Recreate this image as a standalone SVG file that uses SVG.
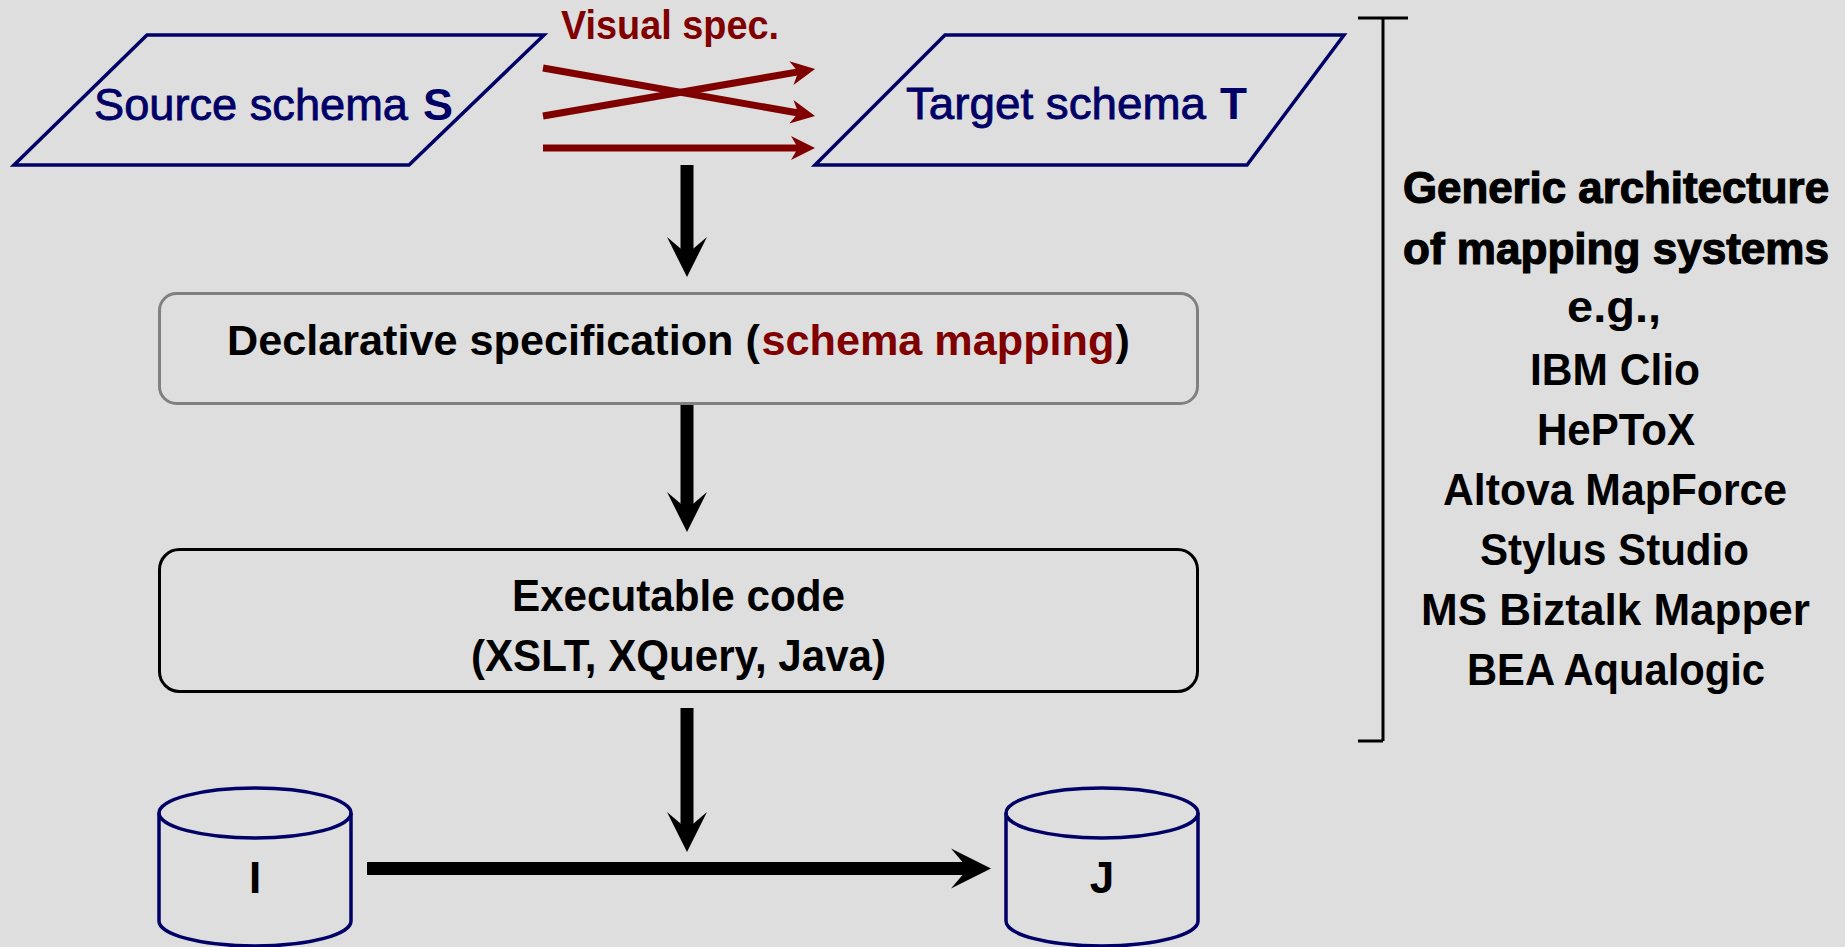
<svg xmlns="http://www.w3.org/2000/svg" width="1845" height="947" viewBox="0 0 1845 947">
<style>
.t{font-family:"Liberation Sans",Arial,sans-serif;font-size:44px;font-weight:bold;}
.d{font-size:43.2px;}
.vs{font-size:41px;}
.navy{fill:#000066;}
.red{fill:#800000;}
.blk{fill:#000000;}
.med{font-weight:normal;stroke:#000066;stroke-width:0.8px;}
.shape{fill:none;stroke:#000066;stroke-width:3.5;}
.bk{stroke:#000;stroke-width:13;fill:none;}
.rd{stroke:#800000;stroke-width:7;fill:none;}
.heavy{stroke:#000;stroke-width:1.2px;}
</style>
<defs>
<marker id="ah" markerUnits="userSpaceOnUse" viewBox="0 -21 41 42" markerWidth="41" markerHeight="42" refX="17" refY="0" orient="auto">
<path d="M0,-20 L40,0 L0,20 L17,0 Z" fill="#000"/>
</marker>
<marker id="ahr" markerUnits="userSpaceOnUse" viewBox="0 -13 25 26" markerWidth="25" markerHeight="26" refX="7" refY="0" orient="auto">
<path d="M0,-12 L24,0 L0,12 L7,0 Z" fill="#800000"/>
</marker>
</defs>
<rect width="1845" height="947" fill="#dedede"/>

<g id="source">
<polygon class="shape" points="147,35 544,35 409,165 14,165"/>
<text class="t navy med" x="94" y="120" textLength="314" lengthAdjust="spacingAndGlyphs">Source schema</text>
<text class="t navy" x="423" y="120" textLength="30" lengthAdjust="spacingAndGlyphs">S</text>
</g>

<g id="target">
<polygon class="shape" points="945,35 1344,35 1247,165 815,165"/>
<text class="t navy med" x="906" y="119" textLength="300" lengthAdjust="spacingAndGlyphs">Target schema</text>
<text class="t navy" x="1220" y="119" textLength="27" lengthAdjust="spacingAndGlyphs">T</text>
</g>

<g id="visual-spec">
<text class="t vs red" x="561" y="39" textLength="218" lengthAdjust="spacingAndGlyphs">Visual spec.</text>
</g>

<g id="declarative">
<rect x="159.5" y="293.5" width="1038" height="110" rx="17" fill="none" stroke="#808080" stroke-width="3"/>
<text class="t d blk" x="227" y="355">Declarative specification (</text>
<text class="t d red" x="761.5" y="355">schema mapping</text>
<text class="t d blk" x="1115.5" y="355">)</text>
</g>

<g id="executable">
<rect x="159.5" y="549.5" width="1038" height="142" rx="20" fill="none" stroke="#000" stroke-width="3"/>
<text class="t blk" x="512" y="611" textLength="333" lengthAdjust="spacingAndGlyphs">Executable code</text>
<text class="t blk" x="471" y="671" textLength="415" lengthAdjust="spacingAndGlyphs">(XSLT, XQuery, Java)</text>
</g>

<g id="db-I">
<path class="shape" d="M159,813 L159,921 A96,25 0 0 0 351,921 L351,813"/>
<ellipse class="shape" cx="255" cy="813" rx="96" ry="25"/>
<text class="t blk" x="255" y="893" text-anchor="middle">I</text>
</g>

<g id="db-J">
<path class="shape" d="M1006,813 L1006,921 A96,25 0 0 0 1198,921 L1198,813"/>
<ellipse class="shape" cx="1102" cy="813" rx="96" ry="25"/>
<text class="t blk" x="1102" y="893" text-anchor="middle">J</text>
</g>

<g id="bracket">
<path d="M1358,18 L1408,18 M1383,18 L1383,741 M1358,741 L1383,741" fill="none" stroke="#000" stroke-width="3"/>
</g>

<g id="systems-note">
<text class="t blk heavy" x="1403" y="203" textLength="426" lengthAdjust="spacingAndGlyphs">Generic architecture</text>
<text class="t blk heavy" x="1403" y="264" textLength="426" lengthAdjust="spacingAndGlyphs">of mapping systems</text>
<text class="t blk" x="1567" y="322" textLength="94" lengthAdjust="spacingAndGlyphs">e.g.,</text>
<text class="t blk" x="1530" y="385" textLength="170" lengthAdjust="spacingAndGlyphs">IBM Clio</text>
<text class="t blk" x="1537" y="445" textLength="158" lengthAdjust="spacingAndGlyphs">HePToX</text>
<text class="t blk" x="1443" y="505" textLength="344" lengthAdjust="spacingAndGlyphs">Altova MapForce</text>
<text class="t blk" x="1480" y="565" textLength="269" lengthAdjust="spacingAndGlyphs">Stylus Studio</text>
<text class="t blk" x="1421" y="625" textLength="389" lengthAdjust="spacingAndGlyphs">MS Biztalk Mapper</text>
<text class="t blk" x="1467" y="685" textLength="298" lengthAdjust="spacingAndGlyphs">BEA Aqualogic</text>
</g>

<g id="connectors">
<line class="rd" x1="543" y1="68" x2="798.3" y2="113" marker-end="url(#ahr)"/>
<line class="rd" x1="543" y1="116" x2="798.3" y2="71.9" marker-end="url(#ahr)"/>
<line class="rd" x1="543" y1="148" x2="798" y2="148" marker-end="url(#ahr)"/>
<line class="bk" x1="687" y1="165" x2="687" y2="254" marker-end="url(#ah)"/>
<line class="bk" x1="687" y1="405" x2="687" y2="509" marker-end="url(#ah)"/>
<line class="bk" x1="687" y1="708" x2="687" y2="829" marker-end="url(#ah)"/>
<line class="bk" x1="367" y1="868.5" x2="968" y2="868.5" marker-end="url(#ah)"/>
</g>
</svg>
